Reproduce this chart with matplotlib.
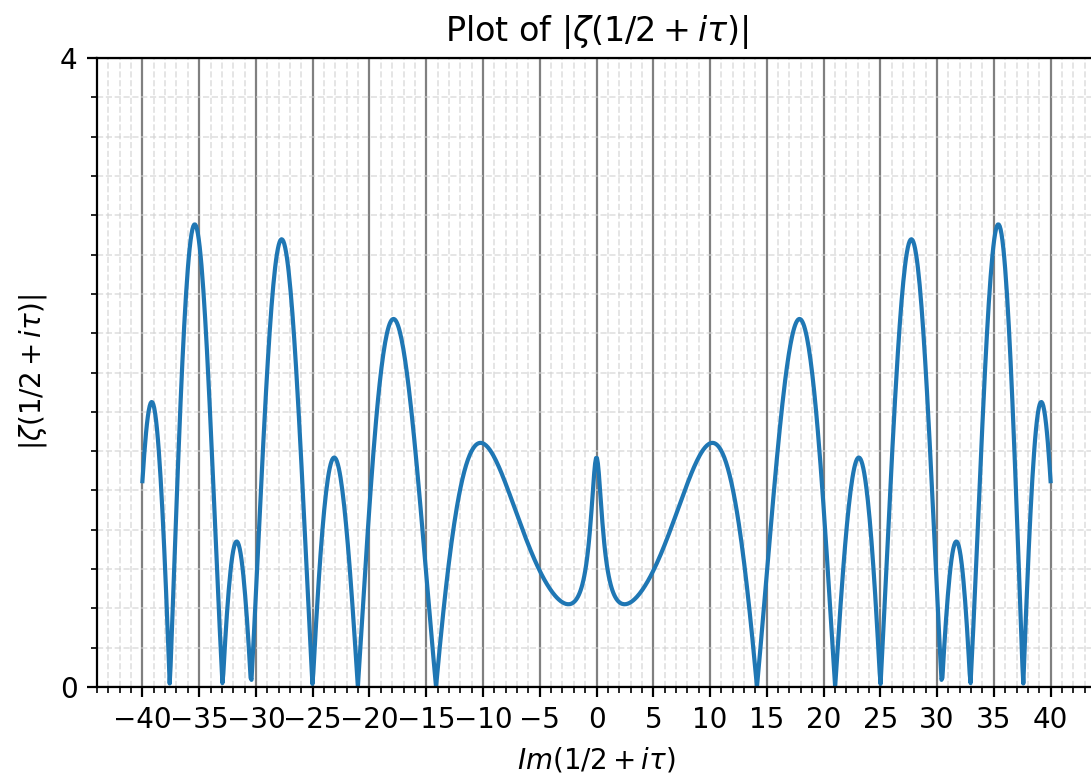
import numpy as np
import matplotlib
matplotlib.use('Agg')
import matplotlib.pyplot as plt
from matplotlib.ticker import MultipleLocator
from math import factorial

# range of tau and the tick layout
tau_min, tau_max = -40, 40
n_points = 1000
x_major = 5
x_minor = 1
y_ticks = [0, 4]
y_minor = 0.25

# Bernoulli numbers B2, B4, ..., B20 for the Euler-Maclaurin tail
bernoulli = [1/6, -1/30, 1/42, -1/30, 5/66, -691/2730, 7/6,
             -3617/510, 43867/798, -174611/330]


def zeta(s, N=60):
    n = np.arange(1, N, dtype=float)
    total = np.exp(-s[:, None] * np.log(n)[None, :]).sum(axis=1)
    total = total + N ** (1 - s) / (s - 1) + 0.5 * N ** (-s)
    poch = s.copy()
    for k, b in enumerate(bernoulli, start=1):
        total = total + b / factorial(2 * k) * poch * N ** (-s - 2 * k + 1)
        poch = poch * (s + 2 * k - 1) * (s + 2 * k)
    return total


tau = np.linspace(tau_min, tau_max, n_points)
z = np.abs(zeta(0.5 + 1j * tau))

dpi = 200
fig = plt.figure(figsize=(1091 / dpi, 776 / dpi), dpi=dpi)
ax = fig.add_axes([97 / 1091, 89 / 776, 999 / 1091, 629 / 776])

ax.plot(tau, z)

ax.set_ylim(0, 4)
ax.set_yticks(y_ticks)
ax.yaxis.set_minor_locator(MultipleLocator(y_minor))
ax.xaxis.set_major_locator(MultipleLocator(x_major))
ax.xaxis.set_minor_locator(MultipleLocator(x_minor))

ax.grid(which='major', color='gray', linewidth=0.8)
ax.grid(which='minor', color='lightgray', linestyle='--', linewidth=0.6, alpha=0.7)

ax.set_title(r'Plot of $|\zeta(1/2 + i\tau)|$')
ax.set_xlabel(r'$Im(1/2 + i\tau)$')
ax.set_ylabel(r'$|\zeta(1/2 + i\tau)|$')

fig.savefig('out.png', dpi=dpi)
